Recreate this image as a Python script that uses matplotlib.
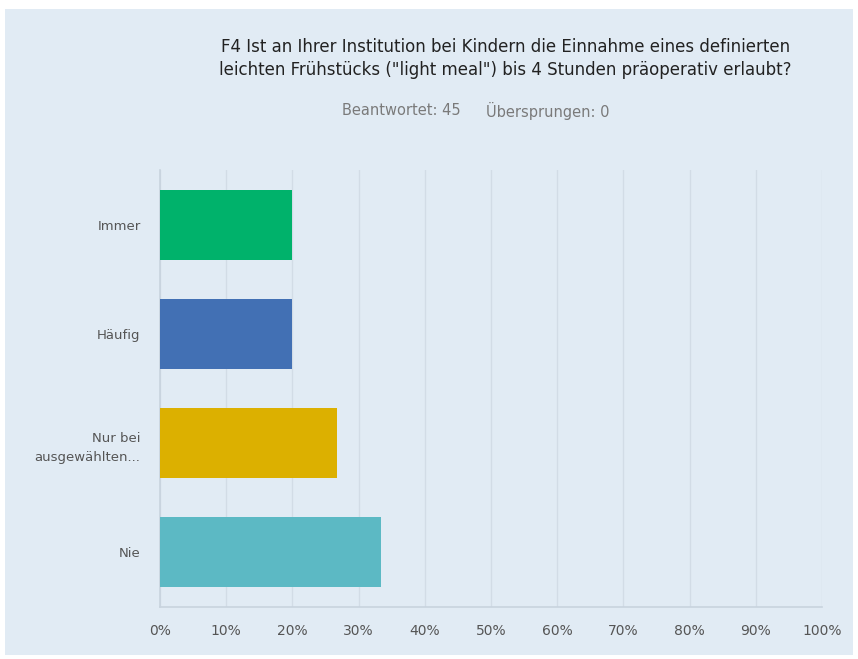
import matplotlib.pyplot as plt

categories = ['Immer', 'Häufig', 'Nur bei\nausgewählten...', 'Nie']
antworten = [9, 9, 12, 15]
beantwortet = 45
uebersprungen = 0
farben = ['#00b26b', '#4270b4', '#dcb000', '#5cb9c4']
xticks = list(range(0, 101, 10))

prozent = [a / beantwortet * 100 for a in antworten]

bg = '#e1ebf4'
fig = plt.figure(figsize=(8.58, 6.59), dpi=100, facecolor='white')
# hellblauer Hintergrund mit weissem Rand
fig.patches.append(plt.Rectangle((5 / 858, 4 / 659), 848 / 858, 646 / 659,
                                 transform=fig.transFigure, facecolor=bg,
                                 edgecolor='none', zorder=-1))

ax = fig.add_axes([160 / 858, 52 / 659, 662 / 858, 437 / 659])
ax.set_zorder(2)
ax.set_facecolor(bg)
y = list(range(len(categories)))
ax.barh(y, prozent, height=0.64, color=farben, zorder=3)
ax.set_ylim(len(categories) - 0.5, -0.5)
ax.set_xlim(0, 100)
ax.set_xticks(xticks)
ax.set_xticklabels([f'{t}%' for t in xticks])
ax.set_yticks(y)
ax.set_yticklabels(categories, linespacing=1.6)
ax.tick_params(axis='both', length=0, colors='#555555')
ax.tick_params(axis='x', pad=12, labelsize=10)
ax.tick_params(axis='y', pad=14, labelsize=9.5)
ax.grid(axis='x', color='#d2dce6', linewidth=1, zorder=0)
for s in ['top', 'right']:
    ax.spines[s].set_visible(False)
for s in ['left', 'bottom']:
    ax.spines[s].set_color('#c8d3de')
    ax.spines[s].set_linewidth(1.2)

fig.text(0.589, 0.911, 'F4 Ist an Ihrer Institution bei Kindern die Einnahme eines definierten\n'
         'leichten Frühstücks ("light meal") bis 4 Stunden präoperativ erlaubt?',
         ha='center', va='center', fontsize=12, color='#222222', linespacing=1.35)
fig.text(0.537, 0.832, f'Beantwortet: {beantwortet}', ha='right', va='center',
         fontsize=10.5, color='#7a7a7a')
fig.text(0.567, 0.832, f'Übersprungen: {uebersprungen}', ha='left', va='center',
         fontsize=10.5, color='#7a7a7a')

fig.savefig('out.png', dpi=100, facecolor='white')
